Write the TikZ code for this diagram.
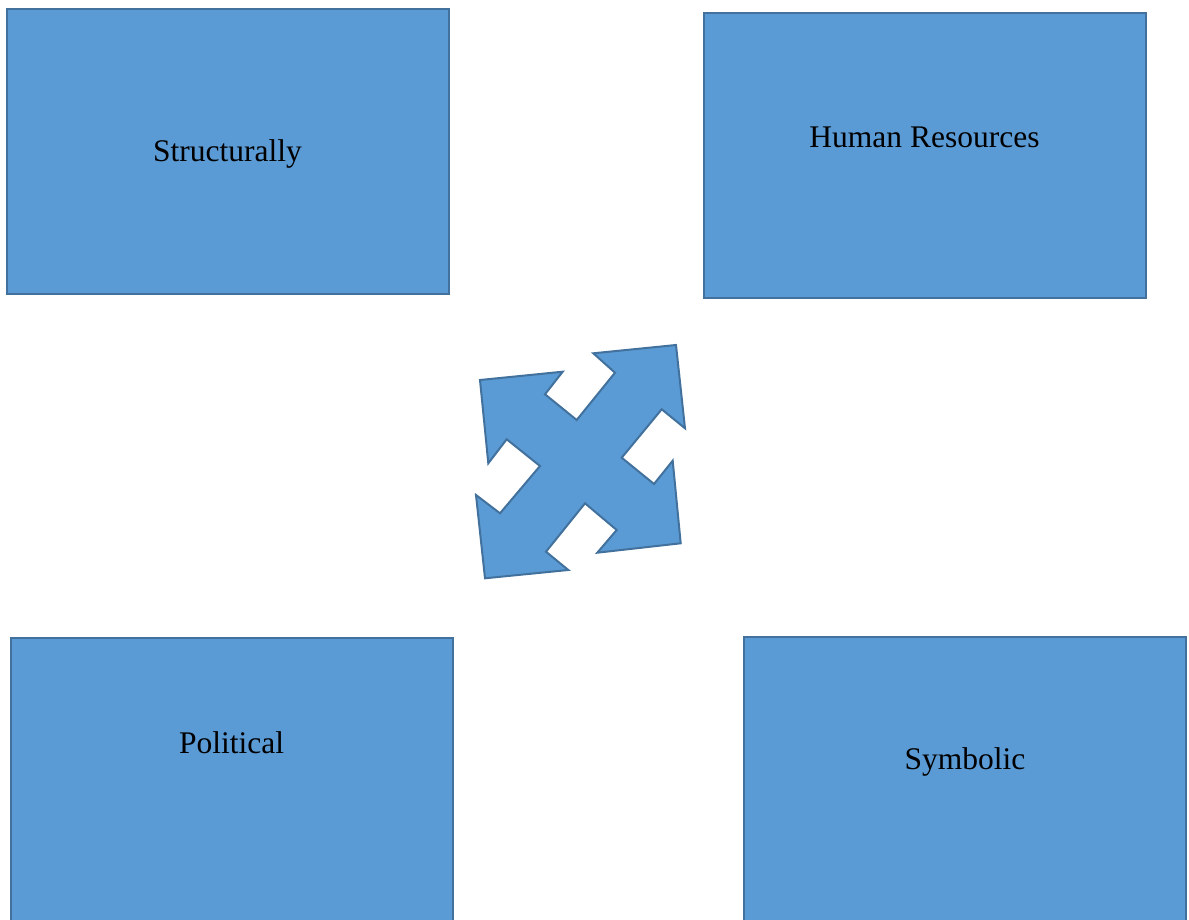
\documentclass[tikz,border=0pt]{standalone}
\usepackage{fontspec}
\setmainfont{Liberation Serif}
\definecolor{boxfill}{HTML}{5B9BD5}
\definecolor{boxline}{HTML}{41719C}
\tikzset{
  box/.style={draw=boxline, line width=2pt, fill=boxfill, rectangle, inner sep=0pt, minimum width=442pt, minimum height=285pt},
  lbl/.style={anchor=base, inner sep=0pt, font=\fontsize{31.5}{38}\selectfont, text=black},
  quad/.style={draw=boxline, line width=2pt, fill=boxfill, line join=miter}
}
\begin{document}
\begin{tikzpicture}[x=1pt, y=-1pt]
\useasboundingbox (0,0) rectangle (1189,920);
\clip (0,0) rectangle (1189,920);
\node[box] (b1) at (228,151.5) {};
\node[box] (b2) at (925,155.5) {};
\node[box] (b3) at (232,780.5) {};
\node[box] (b4) at (965,779.5) {};
\node[lbl] (t1) at (227.5,161.7) {Structurally};
\node[lbl] (t2) at (924.5,147.3) {Human Resources};
\node[lbl] (t3) at (231.5,753.3) {Political};
\node[lbl] (t4) at (965,769.3) {Symbolic};
\draw[quad] (480,380) -- (562.7,371.7) -- (545,394.3) -- (576.7,420) -- (615,372.7)
  -- (593.3,353.3) -- (676,345) -- (685,428.3) -- (661.7,409.3) -- (621.7,457.7)
  -- (654,484) -- (672.7,460.7) -- (680.7,543.3) -- (597.3,552.7) -- (616.7,530)
  -- (585,503.3) -- (546,551.7) -- (568.3,570) -- (485,578.3) -- (476,495)
  -- (500,513.3) -- (540,466) -- (506.7,439.3) -- (488.3,463.3) -- cycle;
\end{tikzpicture}
\end{document}
